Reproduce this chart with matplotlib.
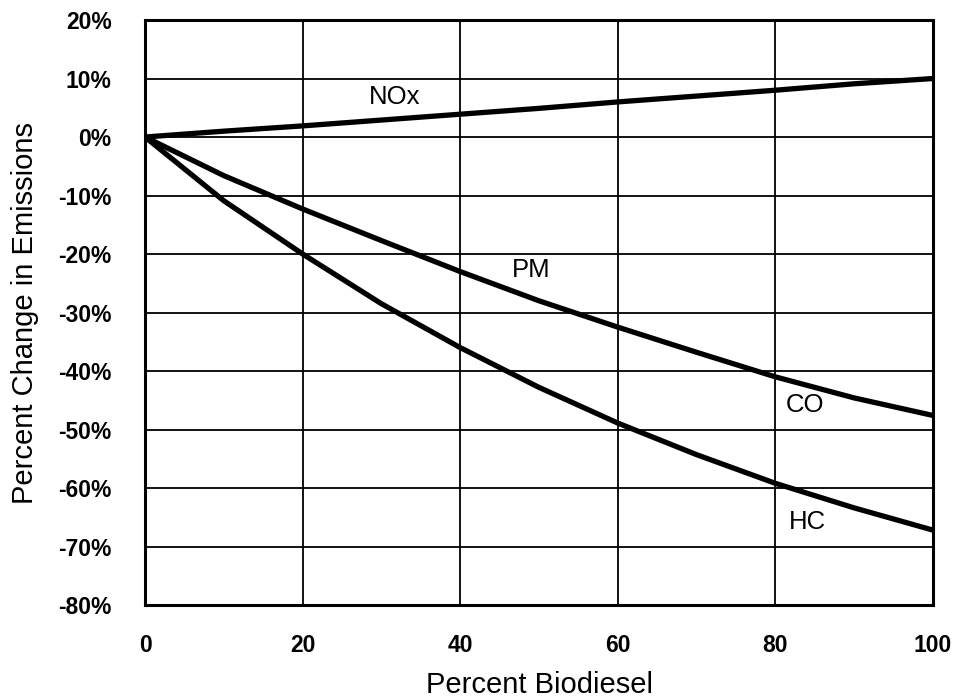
import matplotlib.pyplot as plt
from matplotlib.ticker import FuncFormatter

# (percent biodiesel vs percent change)
blend = [0, 10, 20, 30, 40, 50, 60, 70, 80, 90, 100]
nox = [0, 1.0, 1.9, 2.9, 3.9, 4.9, 6.0, 7.0, 8.0, 9.1, 10.0]
pm_co = [0, -6.6, -12.3, -17.7, -23.0, -28.0, -32.5, -36.8, -41.0, -44.6, -47.6]
hc = [0, -10.9, -20.0, -28.5, -36.0, -42.8, -48.9, -54.3, -59.2, -63.4, -67.2]

labels = ["NOx", "PM", "CO", "HC"]
label_x = [31.7, 49.0, 83.8, 84.1]
label_y = [6.8, -22.7, -45.8, -65.8]

x_ticks = [0, 20, 40, 60, 80, 100]
y_ticks = list(range(-80, 21, 10))

plt.rcParams['font.family'] = ['Liberation Sans', 'DejaVu Sans']

fig = plt.figure(figsize=(9.58, 7.0), dpi=100)
ax = fig.add_axes([0.1514, 0.1357, 0.8225, 0.8357])

for series in (nox, pm_co, hc):
    ax.plot(blend, series, color='black', linewidth=3.8, solid_joinstyle='round', zorder=3)

for txt, lx, ly in zip(labels, label_x, label_y):
    ax.text(lx, ly, txt, fontsize=18.5, ha='center', va='center', color='black')

ax.set_xlim(0, 100)
ax.set_ylim(-80, 20)
ax.set_xticks(x_ticks)
ax.set_yticks(y_ticks)
ax.yaxis.set_major_formatter(FuncFormatter(lambda v, p: "%d%%" % v))
ax.grid(True, color='black', linewidth=1.3)
ax.set_axisbelow(True)
for s in ax.spines.values():
    s.set_linewidth(2.2)

ax.tick_params(length=0, labelsize=16.5)
ax.tick_params(axis='y', pad=24)
ax.tick_params(axis='x', pad=21)
for lab in ax.get_xticklabels() + ax.get_yticklabels():
    lab.set_fontweight('bold')

ax.set_xlabel("Percent Biodiesel", fontsize=21, labelpad=10)
ax.set_ylabel("Percent Change in Emissions", fontsize=21, labelpad=14)

fig.savefig("out.png", dpi=100)
